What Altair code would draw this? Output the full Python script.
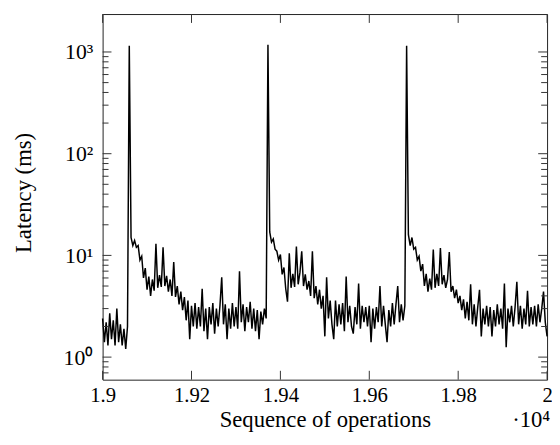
import math
import altair as alt
import pandas as pd

# ---- data ----
X_START = 19000
X_STEP = 4

pre_spike = [2.4, 1.4, 2.2, 1.3, 2.7, 1.5, 2.3, 1.3, 3.0, 1.4, 2.1, 1.3, 1.9, 1.2, 2.0]

cycle_1 = [1150, 15, 12.5, 14, 12, 12.5, 9.0, 9.8, 6.0, 7.5,
           4.6, 6.2, 4.0, 5.8, 4.5, 13, 4.8, 6.4, 4.9, 12,
           5.0, 6.3, 4.4, 5.8, 4.0, 8.6, 3.9, 5.0, 3.3, 4.4,
           2.9, 3.9, 2.3, 3.6, 1.5, 3.2, 2.0, 3.4, 1.9, 3.1,
           2.0, 4.7, 1.8, 3.0, 1.5, 3.1, 2.1, 3.4, 1.7, 3.0,
           2.0, 3.2, 6.1, 2.1, 3.3, 1.5, 3.0, 1.9, 3.4, 2.0,
           3.1, 1.9, 7.0, 2.2, 3.3, 1.8, 3.1, 2.2, 3.5, 1.9,
           3.0, 1.8, 2.9, 1.5, 2.8, 2.1, 3.0, 2.4]

cycle_2 = [1180, 17, 13.5, 14.5, 11.5, 11, 9.0, 10.2, 6.5, 7.6,
           4.7, 3.5, 10.5, 4.8, 6.6, 4.9, 12.2, 5.2, 6.8, 11,
           5.0, 6.5, 4.6, 5.6, 4.0, 11, 3.8, 5.0, 3.3, 4.6,
           3.0, 4.0, 1.6, 6.1, 2.4, 3.6, 2.1, 1.5, 3.6, 2.0,
           3.3, 2.1, 3.4, 1.8, 6.2, 2.2, 3.2, 2.0, 1.7, 3.1,
           2.1, 5.3, 1.9, 3.2, 2.2, 3.1, 2.0, 3.2, 1.4, 3.0,
           1.9, 3.1, 2.2, 5.0, 2.0, 3.2, 2.1, 1.4, 2.9, 2.0,
           3.4, 2.1, 3.3, 5.0, 2.2, 3.3, 2.3, 3.2]

cycle_3 = [1150, 16, 12.5, 15, 11.5, 12, 9.0, 9.8, 7.0, 8.2,
           5.0, 6.6, 4.4, 5.9, 4.6, 11.4, 4.8, 6.6, 5.0, 11.8,
           5.2, 6.4, 4.8, 5.8, 10.8, 4.4, 5.0, 3.8, 4.6, 3.4,
           4.0, 2.9, 3.7, 2.4, 3.5, 2.3, 5.2, 2.1, 3.3, 2.0,
           3.1, 4.6, 1.6, 3.0, 2.1, 3.2, 2.0, 3.1, 1.6, 2.9,
           2.0, 3.3, 2.1, 3.0, 1.9, 5.3, 1.25, 3.0, 2.2, 3.2,
           2.0, 3.1, 5.5, 2.1, 3.2, 1.9, 3.0, 2.1, 4.5, 2.0,
           3.1, 2.1, 3.2, 2.0, 3.3, 2.2, 3.0, 4.4, 2.2, 1.6]

x_ticks = [19000, 19200, 19400, 19600, 19800, 20000]
y_major = [1, 10, 100, 1000]
y_minor = [0.7, 0.8, 0.9, 2, 3, 4, 5, 6, 7, 8, 9,
           20, 30, 40, 50, 60, 70, 80, 90,
           200, 300, 400, 500, 600, 700, 800, 900]
x_title = "Sequence of operations"
y_title = "Latency (ms)"
x_scale_note = "\u00b710\u2074"

latency = pre_spike + cycle_1 + cycle_2 + cycle_3
ops = [X_START + X_STEP * i for i in range(len(latency))]
df = pd.DataFrame({"op": ops, "latency": latency})

# ---- layout ----
W, H = 451, 371
X_DOM = [19000, 20000]
Y_DOM = [0.6, 2360]
MAJOR, MINOR = 9, 6          # tick lengths in px
FONT = "Liberation Serif"
FS_LABEL = 21
FS_TITLE = 23
TICK_COLOR = "#333"

xs = alt.Scale(domain=X_DOM, nice=False, zero=False)
ys = alt.Scale(type="log", domain=Y_DOM, nice=False)

# tick lengths expressed in data units (so they pass through the scales)
x_per_px = (X_DOM[1] - X_DOM[0]) / W
log_per_px = (math.log10(Y_DOM[1]) - math.log10(Y_DOM[0])) / H

rows = []
for v in y_major:
    rows.append({"x": X_DOM[0], "x2": X_DOM[0] + MAJOR * x_per_px, "y": v, "y2": v})
    rows.append({"x": X_DOM[1] - MAJOR * x_per_px, "x2": X_DOM[1], "y": v, "y2": v})
for v in y_minor:
    rows.append({"x": X_DOM[0], "x2": X_DOM[0] + MINOR * x_per_px, "y": v, "y2": v})
    rows.append({"x": X_DOM[1] - MINOR * x_per_px, "x2": X_DOM[1], "y": v, "y2": v})
for v in x_ticks:
    rows.append({"x": v, "x2": v, "y": Y_DOM[0],
                 "y2": Y_DOM[0] * 10 ** (MAJOR * log_per_px)})
    rows.append({"x": v, "x2": v, "y": Y_DOM[1] / 10 ** (MAJOR * log_per_px),
                 "y2": Y_DOM[1]})
tick_df = pd.DataFrame(rows)

y_label_expr = ("datum.value < 5 ? '10\u2070' : datum.value < 50 ? '10\u00b9' : "
                "datum.value < 500 ? '10\u00b2' : '10\u00b3'")

x_axis = alt.Axis(
    values=x_ticks, labelExpr="format(datum.value/10000, '.3~g')",
    ticks=False, domain=False, grid=False, labelPadding=5,
    labelFlush=False, labelOverlap=False, labelFont=FONT,
    labelFontSize=FS_LABEL, labelColor="#000", title=x_title,
    titleFont=FONT, titleFontSize=FS_TITLE, titleFontWeight="normal",
    titleColor="#000", titleY=48, titleBaseline="alphabetic")
y_axis = alt.Axis(
    values=y_major, labelExpr=y_label_expr, ticks=False, domain=False,
    grid=False, labelPadding=10, labelOverlap=False, labelFont=FONT,
    labelFontSize=FS_LABEL + 1, labelColor="#000", title=y_title,
    titleFont=FONT, titleFontSize=FS_TITLE, titleFontWeight="normal",
    titleColor="#000", titleX=-73, titleY=181, titleBaseline="alphabetic")

line = alt.Chart(df).mark_line(color="black", strokeWidth=1.5).encode(
    x=alt.X("op:Q", scale=xs, axis=x_axis),
    y=alt.Y("latency:Q", scale=ys, axis=y_axis),
)

ticks = alt.Chart(tick_df).mark_rule(color=TICK_COLOR, strokeWidth=1).encode(
    x=alt.X("x:Q", scale=xs, axis=x_axis), x2="x2:Q",
    y=alt.Y("y:Q", scale=ys, axis=y_axis), y2="y2:Q",
)

chart = (
    alt.layer(line, ticks)
    .properties(
        width=W, height=H,
        autosize=alt.AutoSizeParams(type="none"),
        padding={"left": 96, "top": 3, "right": 5, "bottom": 53},
        title=alt.TitleParams(
            text=x_scale_note, orient="bottom", anchor="end", font=FONT,
            fontSize=FS_TITLE, fontWeight="normal", color="#000",
            baseline="alphabetic", offset=-5, dx=-2),
    )
    .configure_view(stroke="#222", strokeWidth=1)
)

chart.save("out.html", embed_options={"renderer": "svg", "actions": False})
